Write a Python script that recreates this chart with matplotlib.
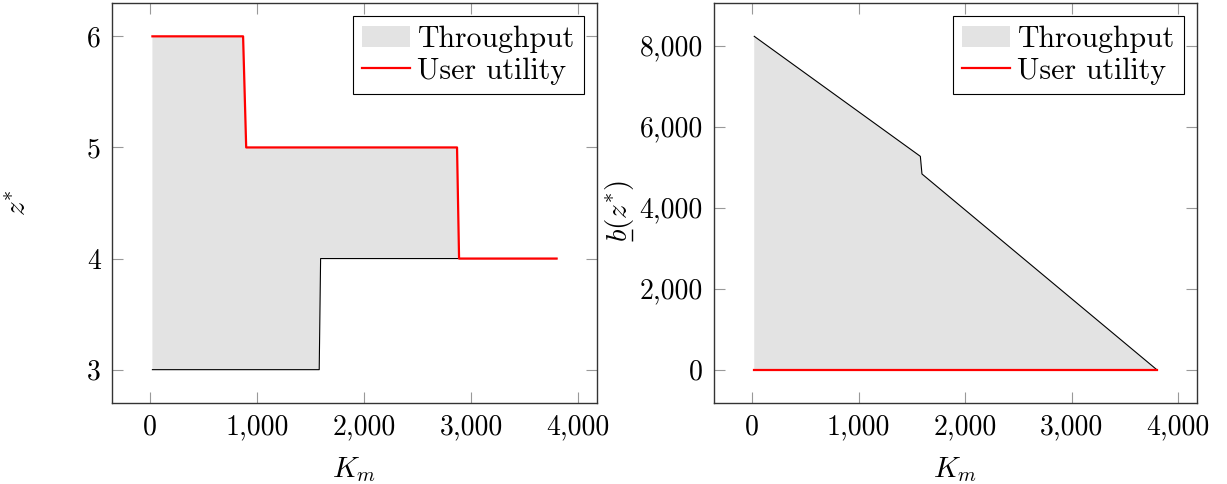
import matplotlib
matplotlib.use("Agg")
import matplotlib.pyplot as plt
import numpy as np
from matplotlib.ticker import FuncFormatter
from matplotlib.lines import Line2D

plt.rcParams['font.family'] = ['cmr10', 'DejaVu Serif']
plt.rcParams['mathtext.fontset'] = 'cm'
plt.rcParams['axes.formatter.use_mathtext'] = True

# Left panel data
km_util_left = [20, 868, 897, 2869, 2888, 3800]
z_util = [6, 6, 5, 5, 4, 4]
km_thr_left = [20, 1580, 1593, 3800]
z_thr = [3, 3, 4, 4]

# Right panel data
km_thr_right = [20, 1580, 1595, 3800]
b_thr = [8230, 5267, 4832, 0]
km_util_right = [20, 3800]
b_util = [0, 0]

xticks = [0, 1000, 2000, 3000, 4000]
yticks_left = [3, 4, 5, 6]
yticks_right = [0, 2000, 4000, 6000, 8000]

FILL = '#e3e3e3'
RED = '#ff0000'
FS = 20

fig = plt.figure(figsize=(12.27, 4.84), dpi=100)
axL = fig.add_axes([112/1227, 81/484, 485/1227, 400/484])
axR = fig.add_axes([714/1227, 81/484, 483/1227, 400/484])

comma = FuncFormatter(lambda v, p: f"{int(round(v)):,}")

def style(ax):
    for s in ax.spines.values():
        s.set_linewidth(1.0)
        s.set_color('#333333')
    ax.tick_params(direction='in', length=8, width=0.8, color='#999999',
                   top=True, right=True, labelsize=FS, pad=8)
    ax.xaxis.set_major_formatter(comma)
    ax.set_xticks(xticks)
    ax.set_xlim(-358, 4178)
    ax.set_xlabel(r'$K_m$', fontsize=FS + 1)
    ax.xaxis.set_label_coords(0.5, -0.13)

# Left
xs = np.concatenate([km_util_left, km_thr_left[::-1]])
ys = np.concatenate([z_util, z_thr[::-1]])
axL.fill(xs, ys, color=FILL, lw=0, label='Throughput')
axL.plot(km_thr_left, z_thr, color='black', lw=0.8)
axL.plot(km_util_left, z_util, color=RED, lw=1.6, label='User utility')
style(axL)
axL.set_ylim(2.7, 6.3)
axL.set_yticks(yticks_left)
axL.yaxis.set_major_formatter(comma)
axL.set_ylabel(r'$z^{*}$', fontsize=FS + 1)
axL.yaxis.set_label_coords(-0.165, 0.5)

# Right
xs = np.concatenate([km_thr_right, km_util_right[::-1]])
ys = np.concatenate([b_thr, b_util[::-1]])
axR.fill(xs, ys, color=FILL, lw=0, label='Throughput')
axR.plot(km_thr_right, b_thr, color='black', lw=0.8)
axR.plot(km_util_right, b_util, color=RED, lw=1.6, label='User utility')
style(axR)
axR.set_ylim(-823, 9053)
axR.set_yticks(yticks_right)
axR.yaxis.set_major_formatter(comma)
ylab = axR.set_ylabel(r'$b(z^{*})$', fontsize=FS + 1)
axR.yaxis.set_label_coords(-0.161, 0.48)

for ax in (axL, axR):
    leg = ax.legend(loc='upper right', fontsize=FS + 1.5, frameon=True, fancybox=False,
                    edgecolor='black', framealpha=1, borderpad=0.3,
                    handlelength=1.6, handletextpad=0.25, labelspacing=0.15,
                    borderaxespad=0.45)
    leg.get_frame().set_linewidth(0.8)

# underline under "b" of the right y-label (rotated text: underline is a short vertical bar)
fig.canvas.draw()
r = fig.canvas.get_renderer()
bb = ylab.get_window_extent(renderer=r)
tmp = fig.text(0, 0, r'$b$', fontsize=FS + 1)
wb = tmp.get_window_extent(renderer=r).width
tmp.remove()
ux = bb.x1 - 4
fig.add_artist(Line2D([ux, ux], [bb.y0 + 1, bb.y0 + wb - 1], transform=None,
                      color='black', lw=1.0, solid_capstyle='butt'))

fig.savefig('out.png', dpi=100)
